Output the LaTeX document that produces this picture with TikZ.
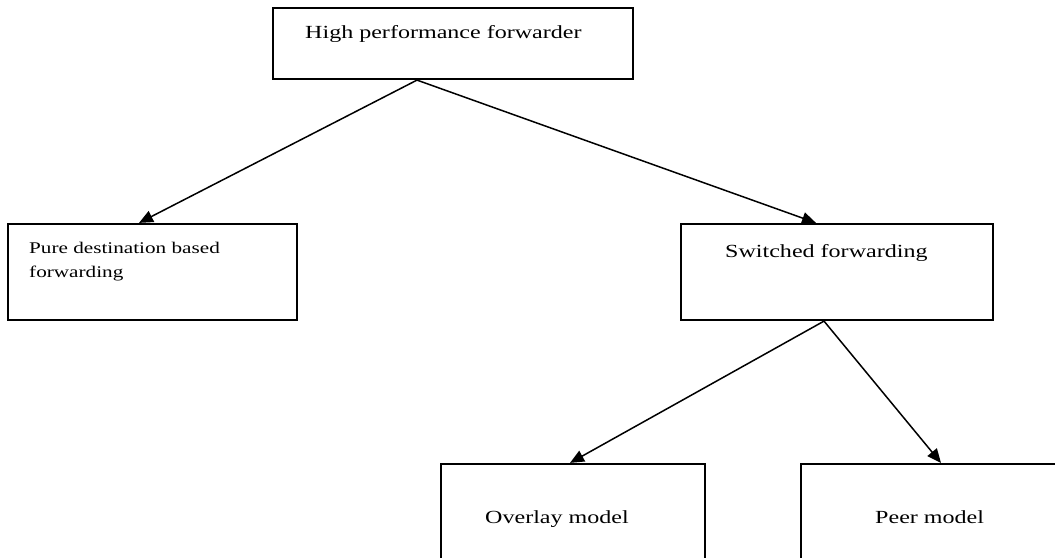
\documentclass[tikz,border=0pt]{standalone}
\usepackage{fontspec}
\setmainfont[FakeStretch=1.3]{Liberation Serif}
\usetikzlibrary{arrows.meta}

\begin{document}
\begin{tikzpicture}[x=1pt, y=-1pt,
		box/.style={draw, line width=2.2pt, inner sep=0pt},
		lbl/.style={anchor=base west, inner sep=0pt, font=\fontsize{18.5}{24}\selectfont},
		arr/.style={line width=1.5pt, -{Triangle[length=14pt,width=12pt]}}]
		\clip (0,0) rectangle (1055,557);
		\fill[white] (0,0) rectangle (1055,557);
		% boxes
		\foreach \x/\y/\w/\h/\name in {
			453/43.5/360/71/top,
			152.5/272/289/96/pure,
			837/272/312/96/sw,
			573/527/264/126/ov,
			935.5/527/269/126/peer}{
		 	\node[box, minimum width=\w pt, minimum height=\h pt] (\name) at (\x,\y) {};
		 }
		 % texts
		 \node[lbl] (top-txt) at (305,38) {High performance forwarder};
		 \node[lbl, font=\fontsize{16.3}{24}\selectfont, align=left] (pure-txt) at (29,277) {Pure destination based\\forwarding};
		 \node[lbl] (sw-txt) at (725,257) {Switched forwarding};
		 \node[lbl] (ov-txt) at (485,523) {Overlay model};
		 \node[lbl] (peer-txt) at (875,523) {Peer model};
		 % ends of the arrows
		 \coordinate (top-out) at ([xshift=-36pt]top.south);
		 \coordinate (pure-in) at ([xshift=-13.5pt]pure.north);
		 \coordinate (sw-in) at ([xshift=-21pt]sw.north);
		 \coordinate (sw-out) at ([xshift=-13pt]sw.south);
		 \coordinate (ov-in) at ([xshift=-3pt]ov.north);
		 \coordinate (peer-in) at ([xshift=5.5pt]peer.north);
		 \foreach \a/\b in {top-out/pure-in, top-out/sw-in, sw-out/ov-in, sw-out/peer-in}
		 {\draw[arr] (\a) -- (\b);}
	\end{tikzpicture}
\end{document}
